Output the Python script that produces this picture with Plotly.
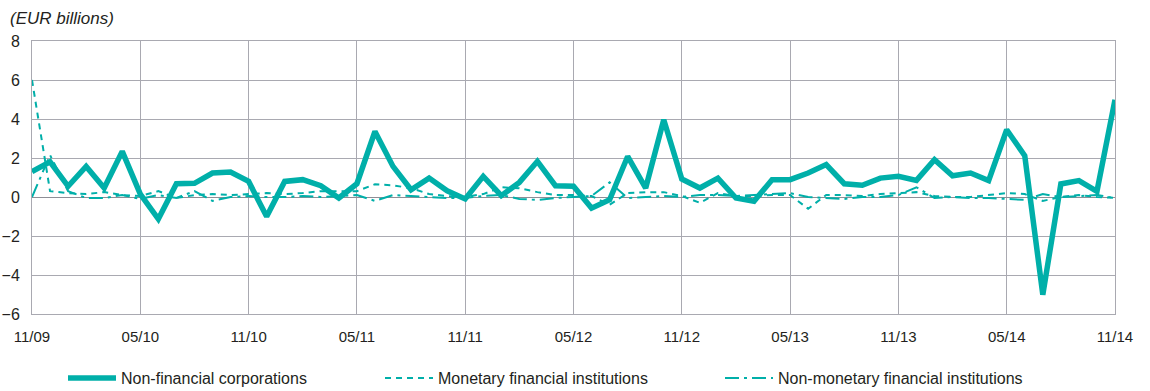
import plotly.graph_objects as go

# Monthly net issuance, November 2009 - November 2014 (EUR billions)
months = list(range(61))
tick_pos = [0, 6, 12, 18, 24, 30, 36, 42, 48, 54, 60]
tick_labels = ["11/09", "05/10", "11/10", "05/11", "11/11", "05/12",
               "11/12", "05/13", "11/13", "05/14", "11/14"]

non_financial = [1.3, 1.8, 0.55, 1.57, 0.46, 2.34, 0.15, -1.13, 0.68, 0.7,
                 1.23, 1.28, 0.8, -1.0, 0.8, 0.89, 0.58, -0.05, 0.68, 3.36,
                 1.57, 0.37, 0.97, 0.32, -0.1, 1.06, 0.07, 0.75, 1.83, 0.58,
                 0.55, -0.57, -0.14, 2.08, 0.46, 3.96, 0.92, 0.46, 0.97, -0.05,
                 -0.22, 0.89, 0.89, 1.23, 1.66, 0.68, 0.6, 0.97, 1.06, 0.85,
                 1.91, 1.09, 1.23, 0.84, 3.45, 2.12, -5.01, 0.67, 0.84, 0.29,
                 4.99]

monetary_fi = [6.0, 0.3, 0.2, 0.15, 0.25, 0.1, 0.05, 0.3, -0.05, 0.1,
               0.15, 0.1, 0.15, 0.2, 0.15, 0.2, 0.3, 0.3, 0.3, 0.65,
               0.6, 0.45, 0.15, 0.05, 0.0, 0.15, 0.5, 0.45, 0.25, 0.1,
               0.1, 0.05, -0.4, 0.2, 0.25, 0.25, 0.05, -0.3, 0.2, 0.05,
               0.05, 0.1, 0.1, -0.6, 0.1, 0.1, 0.05, 0.15, 0.2, 0.25,
               0.05, 0.0, 0.0, 0.1, 0.2, 0.15, -0.2, 0.0, 0.1, 0.0,
               -0.05]

non_monetary_fi = [0.0, 2.15, 0.3, -0.05, -0.05, 0.1, -0.1, 0.1, -0.05, 0.3,
                   -0.2, 0.0, 0.05, 0.0, 0.0, 0.05, 0.0, 0.05, 0.1, -0.2,
                   0.1, 0.05, 0.0, -0.05, -0.05, 0.05, 0.1, -0.1, -0.15, -0.05,
                   0.0, 0.05, 0.75, -0.05, 0.0, 0.05, 0.0, 0.1, 0.1, 0.05,
                   0.1, 0.15, 0.2, 0.0, -0.05, -0.1, 0.0, 0.0, 0.1, 0.5,
                   -0.05, 0.0, -0.05, -0.05, -0.1, -0.15, 0.15, 0.0, 0.05, 0.1,
                   -0.05]

teal = "#00AFA9"
grid = "#A9A9B1"
text_color = "#231F20"
font_family = "Liberation Sans Narrow, Liberation Sans, Arial, sans-serif"

fig = go.Figure()
fig.add_trace(go.Scatter(x=months, y=monetary_fi, mode="lines",
                         name="Monetary financial institutions",
                         line=dict(color=teal, width=2, dash="6px,5px"),
                         legend="legend2"))
fig.add_trace(go.Scatter(x=months, y=non_monetary_fi, mode="lines",
                         name="Non-monetary financial institutions",
                         line=dict(color=teal, width=2, dash="14px,5px,3px,5px"),
                         legend="legend3"))
fig.add_trace(go.Scatter(x=months, y=non_financial, mode="lines",
                         name="Non-financial corporations",
                         line=dict(color=teal, width=5.5),
                         legend="legend"))

legend_common = dict(orientation="h", yref="container", yanchor="middle",
                     y=0.033, xref="container", xanchor="left",
                     itemwidth=48, bgcolor="rgba(0,0,0,0)",
                     font=dict(family=font_family, size=16, color=text_color))

fig.update_layout(
    width=1150, height=391,
    margin=dict(l=32, r=35, t=41, b=77, autoexpand=False),
    paper_bgcolor="white", plot_bgcolor="white",
    font=dict(family=font_family, size=15, color=text_color),
    showlegend=True,
    legend=dict(x=63 / 1150, **legend_common),
    legend2=dict(x=380 / 1150, **legend_common),
    legend3=dict(x=720 / 1150, **legend_common),
    xaxis=dict(range=[0, 60], tickmode="array", tickvals=tick_pos,
               ticktext=tick_labels, showgrid=True, gridcolor=grid,
               gridwidth=1, ticks="", ticklabelstandoff=9,
               tickfont=dict(size=15), automargin=False,
               showline=True, linecolor=grid, mirror=True, zeroline=False),
    yaxis=dict(range=[-6, 8], dtick=2, showgrid=True, gridcolor=grid,
               gridwidth=1, ticks="", ticklabelstandoff=8,
               tickfont=dict(size=16), automargin=False,
               showline=True, linecolor=grid, mirror=True,
               zeroline=True, zerolinecolor="#8E8E96", zerolinewidth=1),
    annotations=[dict(text="<i>(EUR billions)</i>", xref="paper", yref="paper",
                      x=-0.022, y=1.04, xanchor="left", yanchor="bottom",
                      showarrow=False,
                      font=dict(family=font_family, size=17, color=text_color))],
)

fig.write_html("out.html")
